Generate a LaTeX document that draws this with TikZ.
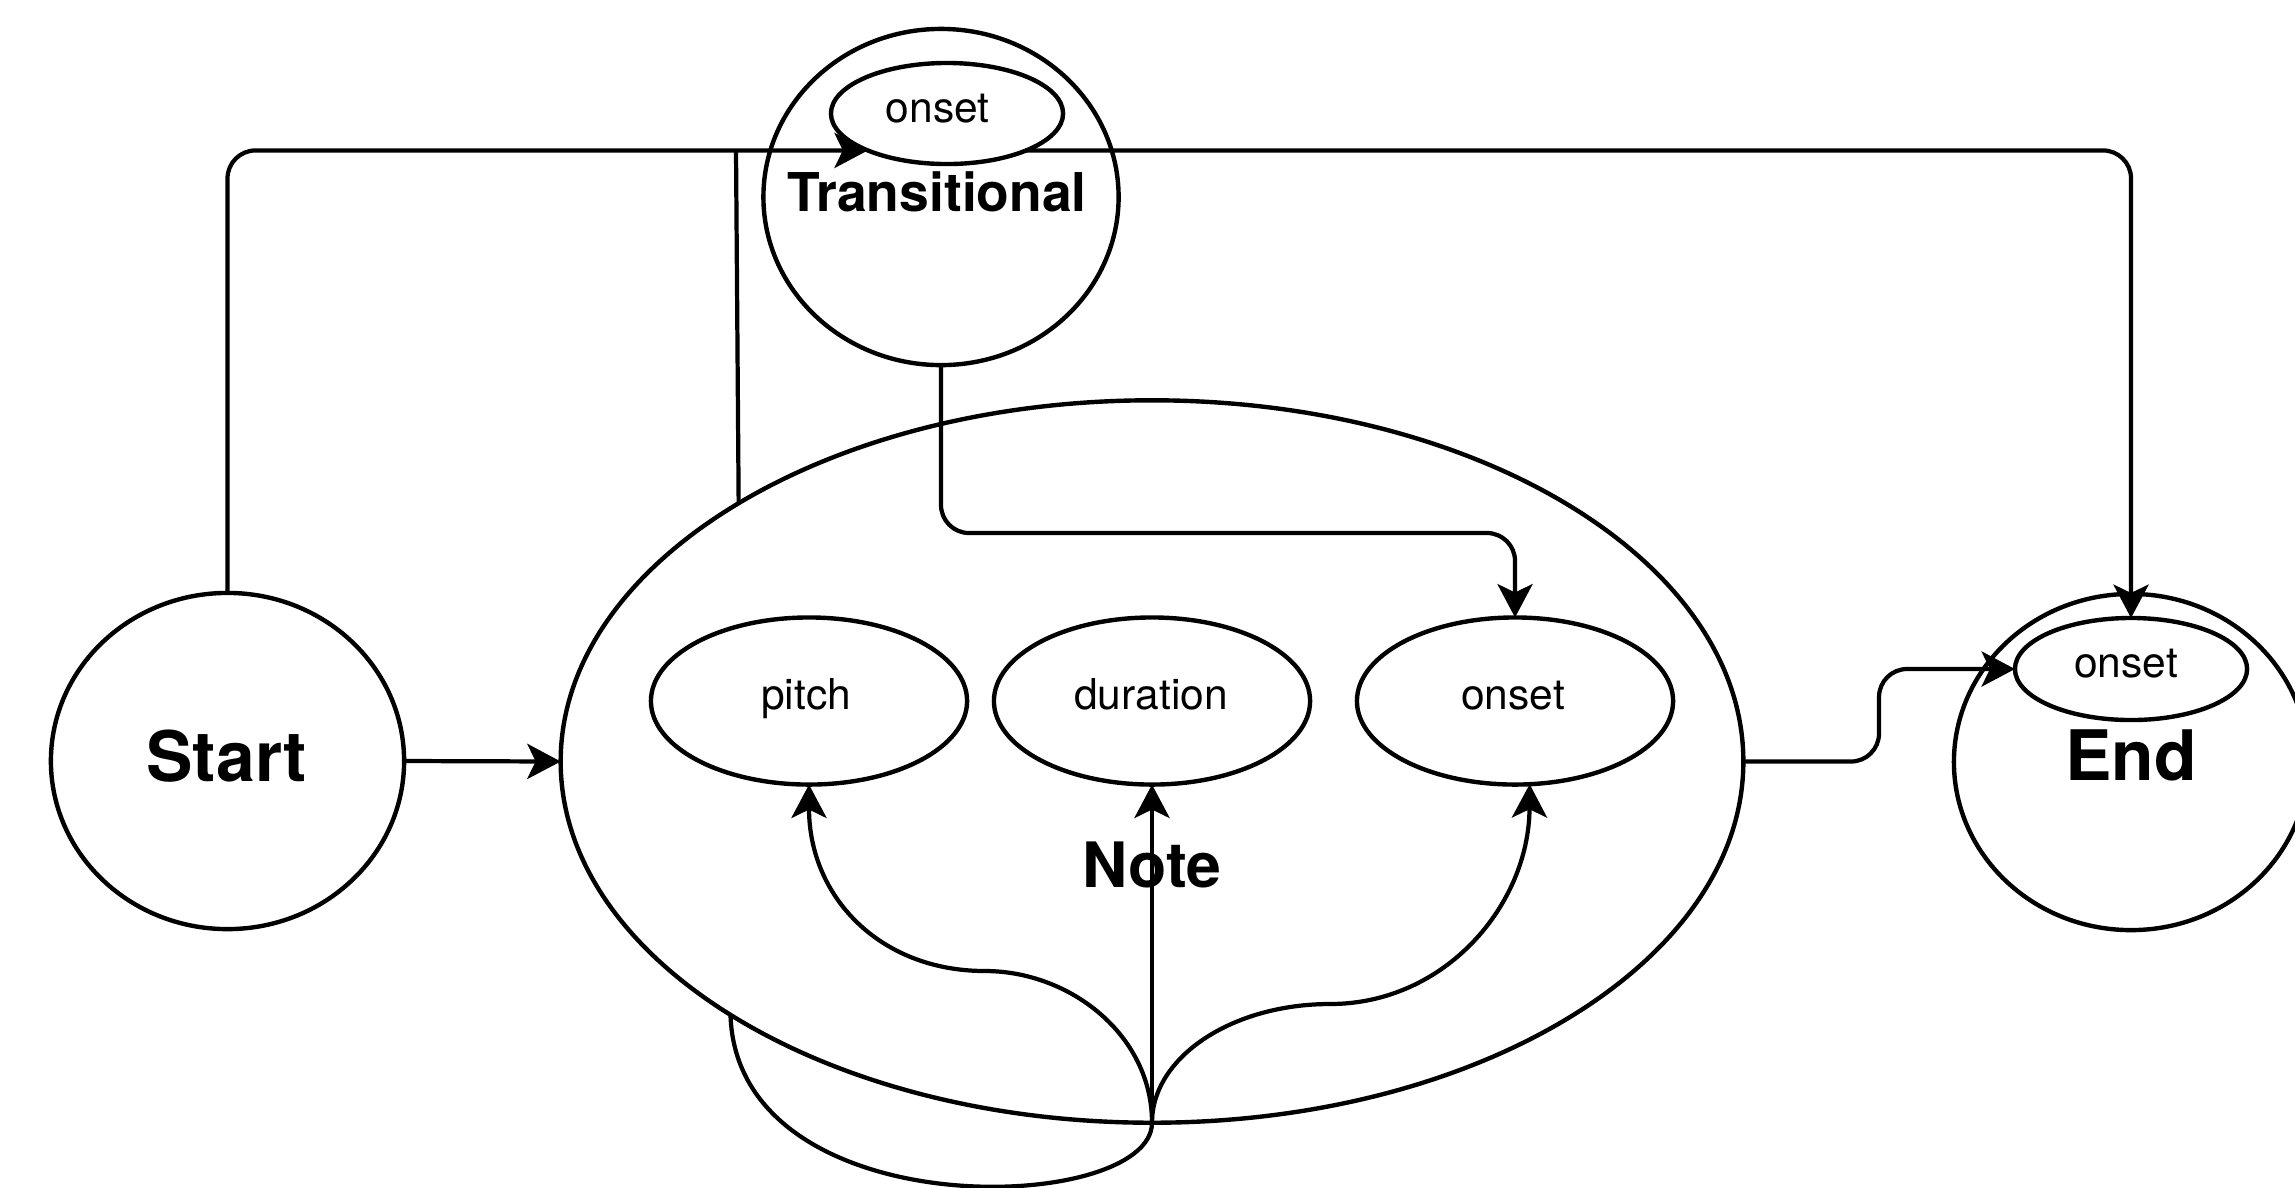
\documentclass[tikz,border=0pt]{standalone}
\usepackage{fontspec}
\setmainfont{TeX Gyre Heros}
\usetikzlibrary{arrows.meta,shapes.geometric}
\begin{document}
\begin{tikzpicture}[x=0.01cm,y=-0.01cm,
  blob/.style={draw,ellipse,line width=1.25pt,inner sep=0pt,outer sep=0pt},
  conn/.style={line width=1.2pt},
  arr/.style={conn,-{Stealth[length=9.5pt,width=10pt,inset=2.4pt]}},
  small/.style={font=\fontsize{12.1}{14}\selectfont,anchor=base,inner sep=0pt},
  big/.style={font=\bfseries\fontsize{19.8}{23}\selectfont,anchor=base,inner sep=0pt},
  mid/.style={font=\bfseries\fontsize{17.8}{21}\selectfont,anchor=base,inner sep=0pt},
  trn/.style={font=\bfseries\fontsize{15.2}{18}\selectfont,anchor=base,inner sep=0pt},
  rc/.style={rounded corners=0.28cm}
]
\useasboundingbox (0,0) rectangle (2295,1187);

% shapes
\node[blob,minimum width=3.53cm,minimum height=3.36cm] (start) at (227.5,761) {};
\node[blob,minimum width=3.55cm,minimum height=3.36cm] (trans) at (941,197) {};
\node[blob,minimum width=2.32cm,minimum height=1.01cm] (tonset) at (947,113.5) {};
\node[blob,minimum width=11.82cm,minimum height=7.22cm] (note) at (1152,761.5) {};
\node[blob,minimum width=3.16cm,minimum height=1.67cm] (pitch) at (809,701) {};
\node[blob,minimum width=3.16cm,minimum height=1.67cm] (dur) at (1152,701) {};
\node[blob,minimum width=3.16cm,minimum height=1.67cm] (nonset) at (1515,701) {};
\node[blob,minimum width=3.54cm,minimum height=3.36cm] (end) at (2131,762) {};
\node[blob,minimum width=2.32cm,minimum height=1.02cm] (eonset) at (2131,669) {};

% texts
\node[small] (tonsetT) at (937.5,122.7) {onset};
\node[trn] (transT) at (937,211) {Transitional};
\node[big] (startT) at (226.5,781) {Start};
\node[big] (endT) at (2131,780) {End};
\node[mid] (noteT) at (1152,887) {Note};
\node[small] (pitchT) at (806,709) {pitch};
\node[small] (durT) at (1151,709) {duration};
\node[small] (nonsetT) at (1513,709) {onset};
\node[small] (eonsetT) at (2126,677) {onset};

% connectors
\draw[arr,rc] (start.north) |- (tonset.205);
\draw[arr,rc] (tonset.-25) -| (eonset.north);
\coordinate (junc) at (736,151);
\draw[conn] (junc) -- (note.148.31);
\draw[conn] (note.211.69) .. controls (737,1230) and (1152,1215) .. (note.south);
\draw[arr,rc] (trans.south) |- (1515,533) -- (nonset.north);
\draw[arr] (start.east) -- (note.west);
\draw[arr,rc] (note.east) -- (1879,761.5) |- (eonset.west);
\draw[arr] (note.south) -- (dur.south);
\draw[arr] (note.south) .. controls (1152,1035) and (1070,971) .. (985,971)
  .. controls (880,971) and (809,897) .. (pitch.south);
\draw[arr] (note.south) .. controls (1152,1057) and (1232,1004) .. (1330,1004)
  .. controls (1445,1004) and (1529,905) .. (nonset.-80.4);
\end{tikzpicture}
\end{document}
